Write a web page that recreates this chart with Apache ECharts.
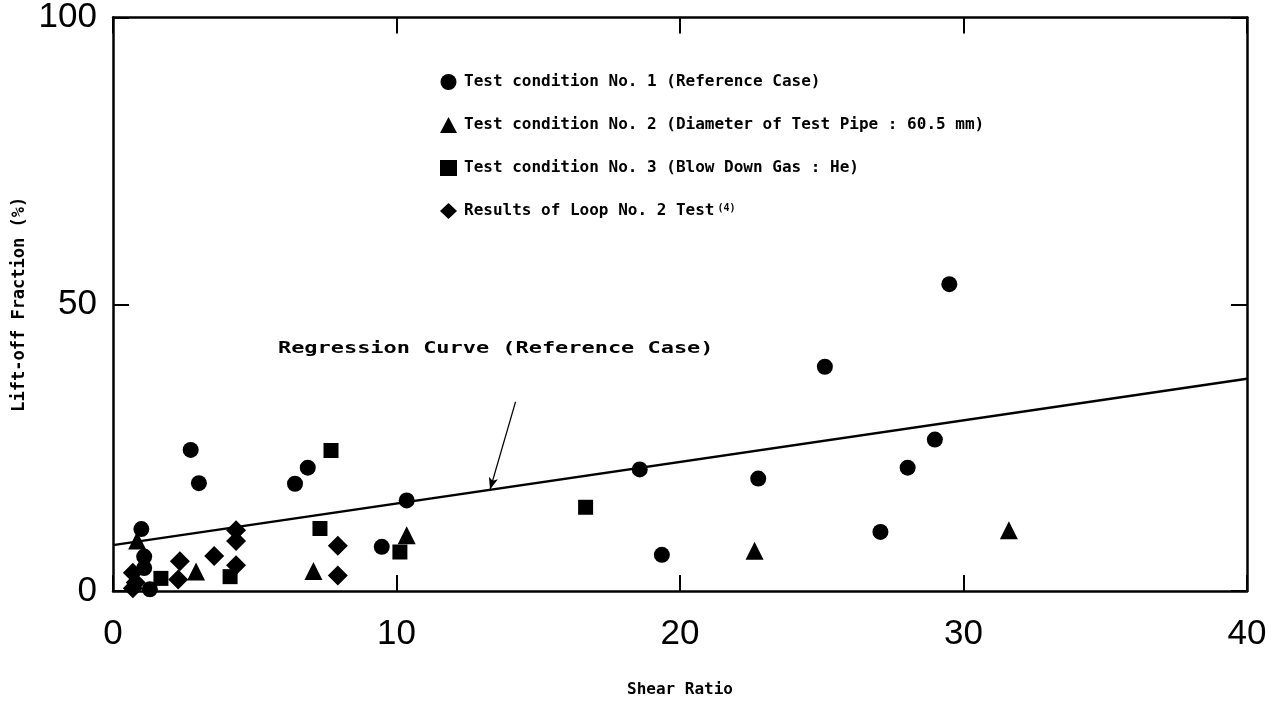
<!DOCTYPE html>
<html><head><meta charset="utf-8">
<script src="https://cdn.jsdelivr.net/npm/echarts@6/dist/echarts.min.js"></script>
<style>html,body{margin:0;padding:0;background:#fff}#c{width:1276px;height:703px}</style>
</head><body><div id="c"></div>
<script>
// ---- data ----
const seriesNames = [
  'Test condition No. 1 (Reference Case)',
  'Test condition No. 2 (Diameter of Test Pipe : 60.5 mm)',
  'Test condition No. 3 (Blow Down Gas : He)',
  'Results of Loop No. 2 Test'
];
const cond1 = [[1.0,10.8],[1.1,6.0],[1.1,4.0],[1.3,0.3],[2.74,24.6],[3.03,18.8],[6.42,18.7],[6.87,21.5],
  [9.48,7.7],[10.36,15.8],[18.58,21.2],[19.36,6.3],[22.76,19.6],[25.11,39.1],[27.07,10.3],[28.03,21.5],
  [28.99,26.4],[29.5,53.5]];
const cond2 = [[0.85,8.8],[2.93,3.4],[7.07,3.5],[10.36,9.7],[22.63,7.0],[31.6,10.6]];
const cond3 = [[1.69,2.2],[4.13,2.5],[7.30,10.9],[7.69,24.5],[10.12,6.8],[16.67,14.6]];
const loop2 = [[0.7,3.2],[0.8,1.5],[0.7,0.5],[2.36,5.2],[2.3,2.0],[3.57,6.1],[4.34,10.6],[4.34,8.7],
  [4.34,4.5],[7.93,7.9],[7.93,2.7]];
const regression = [[0,8],[40,37]];
const arrowFrom = [14.2,33];
const arrowTo = [13.3,17.7];
const annotationText = 'Regression Curve (Reference Case)';
const annotationAnchor = [13.5,42.2];
const xAxisRange = [0,40,10];
const yAxisRange = [0,100,50];
const xName = 'Shear Ratio';
const yName = 'Lift-off Fraction (%)';

// ---- chart ----
const monoFont = '"DejaVu Sans Mono", monospace';
const tickFont = '"Liberation Sans", sans-serif';
const chart = echarts.init(document.getElementById('c'), null, {renderer:'canvas'});
const axisLine = {show:true, onZero:false, lineStyle:{color:'#000', width:2.5}};
const tick = {show:true, inside:true, length:16, lineStyle:{color:'#000', width:2}};
const symbols = ['circle','triangle','rect','diamond'];
const sizes = [16,18,15,20];
const datas = [cond1,cond2,cond3,loop2];

const scatterSeries = datas.map((d,i)=>({
  type:'scatter', name:seriesNames[i], data:d, symbol:symbols[i], symbolSize:sizes[i],
  itemStyle:{color:'#000', opacity:1}, z:3
}));

chart.setOption({
  animation:false,
  backgroundColor:'#fff',
  grid:{left:113, right:29, top:17, bottom:110},
  legend:{
    orient:'vertical', left:435, top:69, itemGap:27, itemWidth:17, itemHeight:16,
    data:seriesNames,
    formatter: n => n === seriesNames[3] ? '{t|' + n + '}{s|(4)}' : '{t|' + n + '}',
    textStyle:{
      color:'#000',
      rich:{
        t:{fontFamily:monoFont, fontWeight:'bold', fontSize:16, lineHeight:16, color:'#000', padding:[0,0,0,2]},
        s:{fontFamily:monoFont, fontWeight:'bold', fontSize:10, lineHeight:10, verticalAlign:'top', color:'#000', padding:[0,0,0,3]}
      }
    }
  },
  xAxis:[{
    type:'value', min:xAxisRange[0], max:xAxisRange[1], interval:xAxisRange[2],
    name:xName, nameLocation:'middle', nameGap:91,
    nameTextStyle:{fontFamily:monoFont, fontWeight:'bold', fontSize:16, color:'#000'},
    axisLine:axisLine, axisTick:tick, splitLine:{show:false},
    axisLabel:{margin:26, fontFamily:tickFont, fontSize:35, color:'#000'}
  },{
    type:'value', position:'top', min:xAxisRange[0], max:xAxisRange[1], interval:xAxisRange[2],
    axisLine:axisLine, axisTick:tick, splitLine:{show:false}, axisLabel:{show:false}
  }],
  yAxis:[{
    type:'value', min:yAxisRange[0], max:yAxisRange[1], interval:yAxisRange[2],
    name:yName, nameLocation:'middle', nameGap:82, nameRotate:90,
    nameTextStyle:{fontFamily:monoFont, fontWeight:'bold', fontSize:17, color:'#000'},
    axisLine:axisLine, axisTick:tick, splitLine:{show:false},
    axisLabel:{margin:16, fontFamily:tickFont, fontSize:35, color:'#000'}
  },{
    type:'value', position:'right', min:yAxisRange[0], max:yAxisRange[1], interval:yAxisRange[2],
    axisLine:axisLine, axisTick:tick, splitLine:{show:false}, axisLabel:{show:false}
  }],
  series:[
    ...scatterSeries,
    {
      type:'line', name:'Regression', data:regression, symbol:'none',
      lineStyle:{color:'#000', width:2.5}, z:2,
      markLine:{
        silent:true, symbol:['none','arrow'], symbolSize:[7,12],
        lineStyle:{color:'#000', width:1.2, type:'solid'},
        label:{show:false},
        data:[[{coord:arrowFrom},{coord:arrowTo}]]
      }
    },
    {type:'scatter', xAxisIndex:1, yAxisIndex:1, data:[], silent:true}
  ]
});

const p = chart.convertToPixel({xAxisIndex:0, yAxisIndex:0}, annotationAnchor);
chart.setOption({
  graphic:[{
    type:'text', x:p[0], y:p[1], scaleX:1.37,
    style:{text:annotationText, fontFamily:monoFont, fontWeight:'bold', fontSize:16,
      fill:'#000', align:'center', verticalAlign:'middle'}
  }]
});
</script>
</body></html>
